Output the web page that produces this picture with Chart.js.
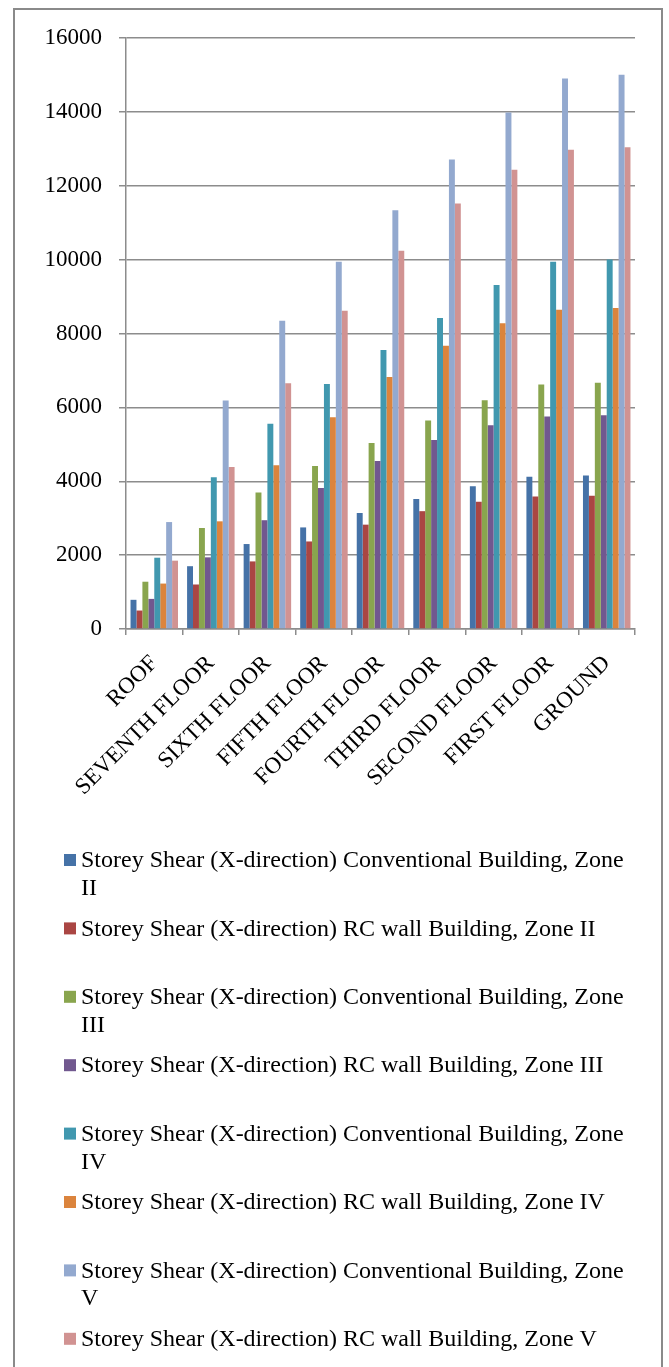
<!DOCTYPE html>
<html>
<head>
<meta charset="utf-8">
<script src="https://cdn.jsdelivr.net/npm/chart.js@4"></script>
<style>
  html, body { margin: 0; padding: 0; background: #ffffff; }
  #wrap { position: relative; width: 669px; height: 1367px; }
  #frame { position: absolute; left: 13px; top: 8px; width: 650px; height: 1370px;
           border: 2px solid #8a8a8a; box-sizing: border-box; pointer-events: none; }
  canvas { display: block; }
</style>
</head>
<body>
<div id="wrap">
  <canvas id="chart" width="669" height="1367"></canvas>
  <div id="frame"></div>
</div>
<script>
// Storeys, top to bottom of the building
const floors = ['ROOF', 'SEVENTH FLOOR', 'SIXTH FLOOR', 'FIFTH FLOOR', 'FOURTH FLOOR',
                'THIRD FLOOR', 'SECOND FLOOR', 'FIRST FLOOR', 'GROUND'];

// Storey shear in X-direction (kN)
const convZoneII  = [790, 1700, 2300, 2750, 3140, 3520, 3865, 4125, 4155];
const rcZoneII    = [500, 1205, 1830, 2370, 2825, 3190, 3445, 3585, 3605];
const convZoneIII = [1280, 2735, 3695, 4410, 5035, 5645, 6195, 6620, 6665];
const rcZoneIII   = [815, 1940, 2945, 3820, 4545, 5115, 5515, 5750, 5790];
const convZoneIV  = [1930, 4110, 5560, 6630, 7550, 8420, 9315, 9940, 10005];
const rcZoneIV    = [1230, 2915, 4430, 5735, 6825, 7670, 8280, 8645, 8690];
const convZoneV   = [2895, 6185, 8345, 9945, 11340, 12710, 13980, 14905, 15005];
const rcZoneV     = [1850, 4385, 6655, 8615, 10240, 11520, 12430, 12975, 13040];

const seriesNames = [
  'Storey Shear (X-direction) Conventional Building, Zone II',
  'Storey Shear (X-direction) RC wall Building, Zone II',
  'Storey Shear (X-direction) Conventional Building, Zone III',
  'Storey Shear (X-direction) RC wall Building, Zone III',
  'Storey Shear (X-direction) Conventional Building, Zone IV',
  'Storey Shear (X-direction) RC wall Building, Zone IV',
  'Storey Shear (X-direction) Conventional Building, Zone V',
  'Storey Shear (X-direction) RC wall Building, Zone V'
];
const seriesValues = [convZoneII, rcZoneII, convZoneIII, rcZoneIII,
                      convZoneIV, rcZoneIV, convZoneV, rcZoneV];
const seriesColors = ['#4572A7', '#AA4643', '#89A54E', '#71588F',
                      '#4198AF', '#DB843D', '#93A9CF', '#D19392'];

const yTicks = [0, 2000, 4000, 6000, 8000, 10000, 12000, 14000, 16000];

const SERIF = '"Liberation Serif", "Times New Roman", serif';

// Single-column legend below the plot, with word wrapping
const wrappedLegend = {
  id: 'wrappedLegend',
  afterDraw(chart, args, opts) {
    const ctx = chart.ctx;
    ctx.save();
    ctx.font = opts.fontSize + 'px ' + SERIF;
    ctx.textBaseline = 'middle';
    ctx.textAlign = 'left';
    chart.data.datasets.forEach((ds, i) => {
      const yc = opts.top + i * opts.step;
      ctx.fillStyle = ds.backgroundColor;
      ctx.fillRect(opts.boxX, yc - opts.box / 2 - 1, opts.box, opts.box);
      // wrap words into lines
      const words = ds.label.split(' ');
      const lines = [];
      let line = '';
      words.forEach(w => {
        const test = line ? line + ' ' + w : w;
        if (ctx.measureText(test).width > opts.maxWidth && line) {
          lines.push(line);
          line = w;
        } else {
          line = test;
        }
      });
      if (line) lines.push(line);
      ctx.fillStyle = '#000000';
      lines.forEach((l, k) => ctx.fillText(l, opts.textX, yc + k * opts.lineHeight));
    });
    ctx.restore();
  }
};

new Chart(document.getElementById('chart'), {
  type: 'bar',
  data: {
    labels: floors,
    datasets: seriesNames.map((name, i) => ({
      label: name,
      data: seriesValues[i],
      backgroundColor: seriesColors[i],
      borderWidth: 0,
      categoryPercentage: 0.84,
      barPercentage: 1.0
    }))
  },
  options: {
    responsive: false,
    animation: false,
    devicePixelRatio: 1,
    layout: { padding: { left: 0, right: 34, top: 38, bottom: 538 } },
    plugins: {
      legend: { display: false },
      tooltip: { enabled: false },
      wrappedLegend: {
        top: 861, step: 68.4, lineHeight: 27.7, fontSize: 24,
        box: 12, boxX: 64, textX: 81, maxWidth: 552
      }
    },
    scales: {
      x: {
        offset: true,
        afterFit(scale) { scale.height = 200; },
        grid: { display: true, drawOnChartArea: false, drawTicks: true, tickLength: 6,
                color: '#8c8c8c', lineWidth: 1.5 },
        border: { display: true, color: '#8c8c8c', width: 1.5 },
        ticks: {
          autoSkip: false, minRotation: 45, maxRotation: 45, padding: 15, labelOffset: 0,
          color: '#000000', font: { family: SERIF, size: 23 }
        }
      },
      y: {
        min: 0, max: 16000,
        afterFit(scale) { scale.width = 126; },
        afterBuildTicks(scale) { scale.ticks = yTicks.map(v => ({ value: v })); },
        grid: { color: '#8c8c8c', lineWidth: 1.5, drawTicks: true, tickLength: 7 },
        border: { display: true, color: '#8c8c8c', width: 1.5 },
        ticks: {
          padding: 17, color: '#000000', font: { family: SERIF, size: 23 },
          callback: (v) => String(v)
        }
      }
    }
  },
  plugins: [wrappedLegend]
});
</script>
</body>
</html>
